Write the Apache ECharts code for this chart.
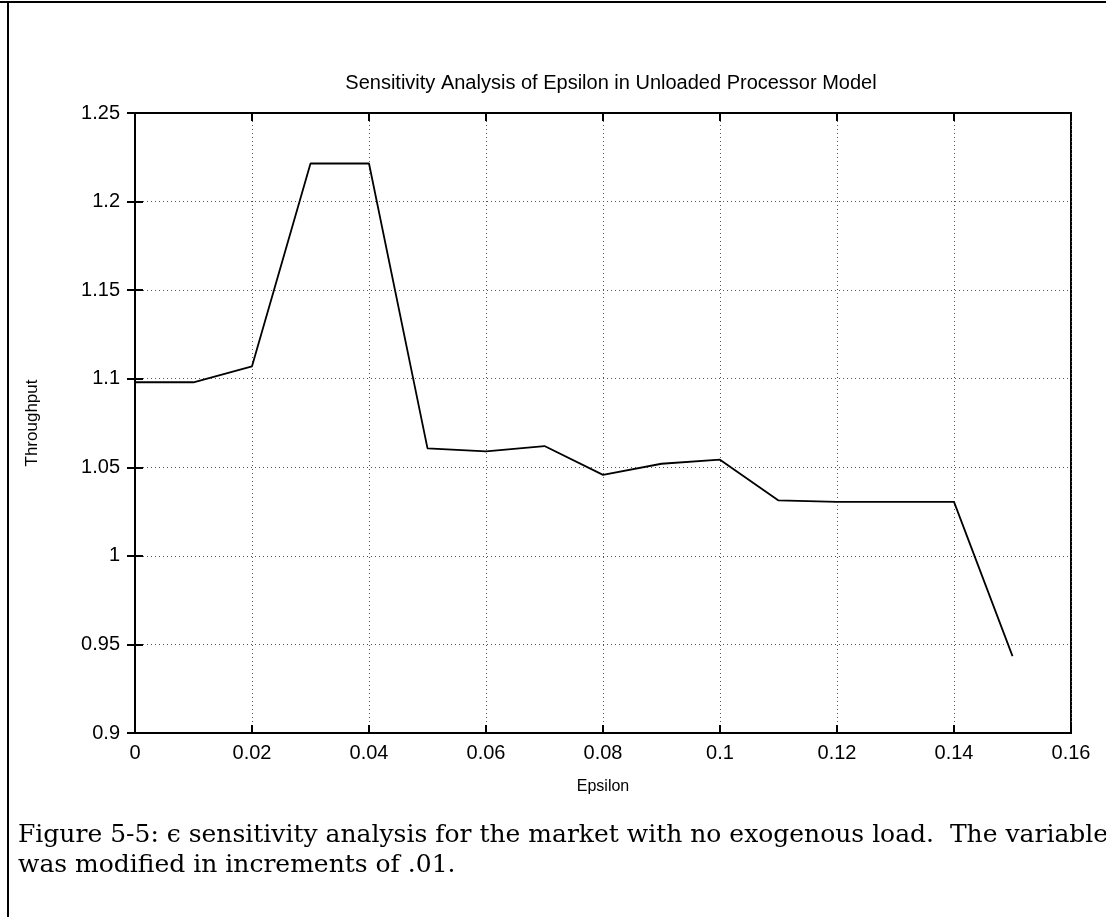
<!DOCTYPE html>
<html>
<head>
<meta charset="utf-8">
<script src="https://cdn.jsdelivr.net/npm/echarts@6/dist/echarts.min.js"></script>
<style>
html,body{margin:0;padding:0;background:#fff;}
#chart{width:1106px;height:917px;}
</style>
</head>
<body>
<div id="chart"></div>
<script>
// ---- data ----
const epsilonValues = [0, 0.01, 0.02, 0.03, 0.04, 0.05, 0.06, 0.07, 0.08, 0.09, 0.10, 0.11, 0.12, 0.13, 0.14, 0.15];
const throughputValues = [1.098, 1.098, 1.107, 1.2215, 1.2215, 1.0607, 1.0590, 1.062, 1.0457, 1.052, 1.0543, 1.0313, 1.0305, 1.0305, 1.0305, 0.9434];
const xTickLabels = ['0', '0.02', '0.04', '0.06', '0.08', '0.1', '0.12', '0.14', '0.16'];
const yTickLabels = ['0.9', '0.95', '1', '1.05', '1.1', '1.15', '1.2', '1.25'];
const chartTitle = 'Sensitivity Analysis of Epsilon in Unloaded Processor Model';
const xName = 'Epsilon';
const yName = 'Throughput';
const captionLine1 = 'Figure 5-5: \u03F5 sensitivity analysis for the market with no exogenous load.  The variable';
const captionLine2 = 'was modified in increments of .01.';

const sans = '"Liberation Sans", Arial, Helvetica, sans-serif';
const serif = '"DejaVu Serif", serif';

const chart = echarts.init(document.getElementById('chart'), null, {renderer: 'canvas'});

const xLab = (v) => xTickLabels[Math.round(v / 0.02)] ?? '';
const yLab = (v) => yTickLabels[Math.round((v - 0.9) / 0.05)] ?? '';

const gridLine = {show: true, lineStyle: {color: '#555', width: 1, type: [1, 3]}};
const tick = {show: true, inside: true, length: 8, lineStyle: {color: '#000', width: 2}};

const option = {
  backgroundColor: '#fff',
  animation: false,
  title: {
    text: chartTitle,
    left: 606,
    textAlign: 'center',
    top: 68,
    textStyle: {fontFamily: sans, fontSize: 20, fontWeight: 'normal', color: '#000'}
  },
  grid: {
    left: 135, right: 35, top: 113, bottom: 184,
    show: true, borderColor: '#000', borderWidth: 2, backgroundColor: 'transparent'
  },
  xAxis: [{
    type: 'value', min: 0, max: 0.16, interval: 0.02, position: 'bottom',
    name: xName, nameLocation: 'middle', nameGap: 46,
    nameTextStyle: {fontFamily: sans, fontSize: 16, color: '#000'},
    axisLine: {show: true, lineStyle: {color: '#000', width: 2}},
    axisTick: tick,
    axisLabel: {formatter: xLab, margin: 10, fontFamily: sans, fontSize: 20, color: '#000'},
    splitLine: gridLine
  }, {
    type: 'value', min: 0, max: 0.16, interval: 0.02, position: 'top',
    axisLine: {show: true, lineStyle: {color: '#000', width: 2}},
    axisTick: tick, axisLabel: {show: false}, splitLine: {show: false}
  }],
  yAxis: [{
    type: 'value', min: 0.9, max: 1.25, interval: 0.05, position: 'left',
    name: yName, nameLocation: 'middle', nameGap: 94, nameRotate: 90,
    nameTextStyle: {fontFamily: sans, fontSize: 17, color: '#000'},
    axisLine: {show: true, lineStyle: {color: '#000', width: 2}},
    axisTick: tick,
    axisLabel: {formatter: yLab, margin: 15, fontFamily: sans, fontSize: 20, color: '#000'},
    splitLine: gridLine
  }, {
    type: 'value', min: 0.9, max: 1.25, interval: 0.05, position: 'right',
    axisLine: {show: true, lineStyle: {color: '#000', width: 2}},
    axisTick: tick, axisLabel: {show: false}, splitLine: {show: false}
  }],
  series: [{
    type: 'line',
    xAxisIndex: 0, yAxisIndex: 0,
    data: epsilonValues.map((x, i) => [x, throughputValues[i]]),
    showSymbol: false, symbol: 'none',
    lineStyle: {color: '#000', width: 1.8},
    itemStyle: {color: '#000'}
  }],
  graphic: [
    {type: 'line', shape: {x1: 0, y1: 2, x2: 1106, y2: 2}, style: {stroke: '#000', lineWidth: 2}},
    {type: 'line', shape: {x1: 8, y1: 2, x2: 8, y2: 917}, style: {stroke: '#000', lineWidth: 2}},
    {type: 'text', left: 18, top: 823, style: {text: captionLine1, fontFamily: serif, fontSize: 25, fill: '#000'}},
    {type: 'text', left: 18, top: 853, style: {text: captionLine2, fontFamily: serif, fontSize: 25, fill: '#000'}}
  ]
};
chart.setOption(option);
</script>
</body>
</html>
